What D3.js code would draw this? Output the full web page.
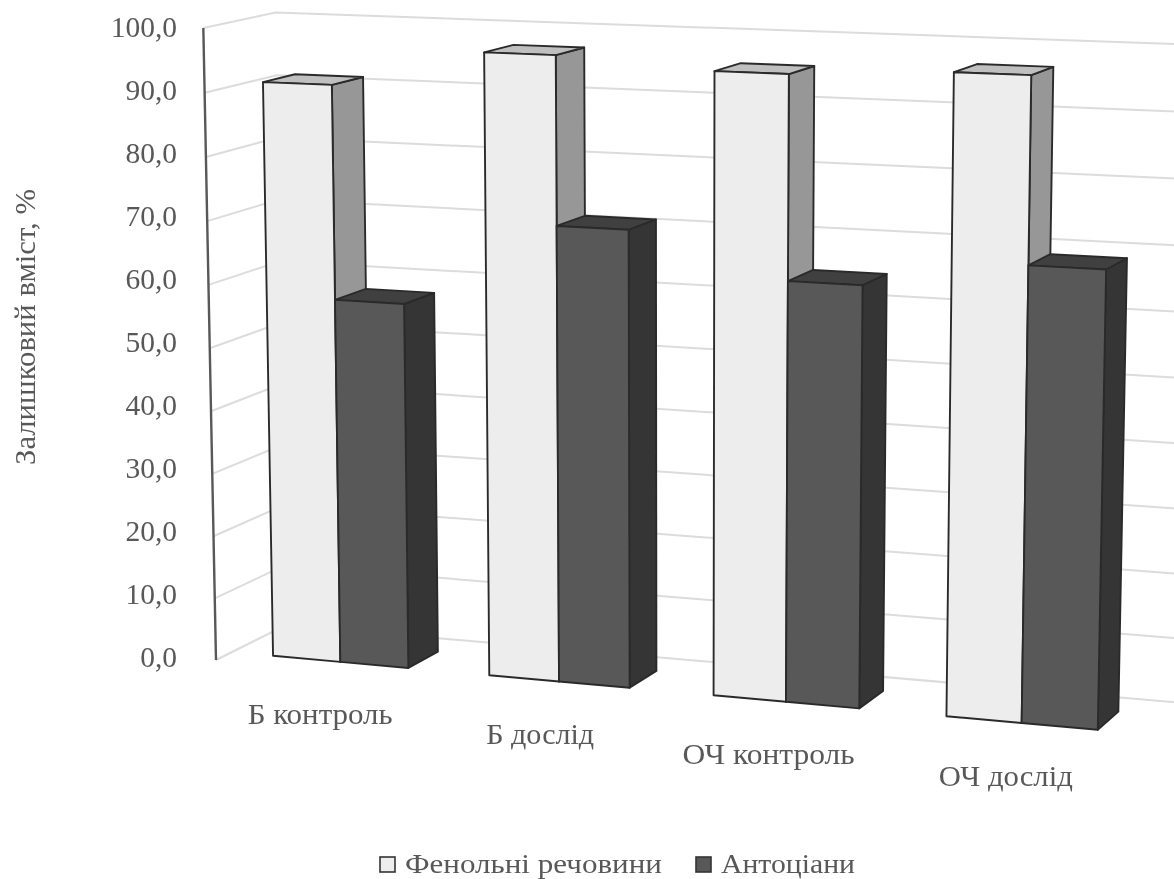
<!DOCTYPE html>
<html>
<head>
<meta charset="utf-8">
<script src="https://cdnjs.cloudflare.com/ajax/libs/d3/7.8.5/d3.min.js"></script>
<style>
  body { margin: 0; background: #fff; }
  text { font-family: "Liberation Serif", serif; fill: #595959; }
</style>
</head>
<body>
<div id="wrapper"></div>
<script>
// 1. Data
const categories = ["Б контроль", "Б дослід", "ОЧ контроль", "ОЧ дослід"]
const seriesNames = ["Фенольні речовини", "Антоціани"]
const phenolics = [91.3, 97.2, 95.7, 96.9]
const anthocyanins = [57.8, 71.2, 64.7, 69.0]
const valueDomain = [0, 100]

function drawChart() {
  const dimensions = { width: 1174, height: 879 }

  const svg = d3.select("#wrapper").append("svg")
    .attr("width", dimensions.width)
    .attr("height", dimensions.height)
    .style("display", "block")

  svg.append("defs").append("filter")
    .attr("id", "soft")
    .attr("filterUnits", "userSpaceOnUse")
    .attr("x", 0).attr("y", 0)
    .attr("width", dimensions.width).attr("height", dimensions.height)
    .append("feGaussianBlur").attr("stdDeviation", 0.55)

  const bounds = svg.append("g").attr("filter", "url(#soft)")

  // 2. Scales. X runs in category units, Z is the depth of the box (0 front, 1 back)
  const xScale = d3.scaleBand()
    .domain(categories)
    .range([0.01, categories.length + 0.01])
    .paddingInner(0.37)
    .paddingOuter(0.185)
  const seriesScale = d3.scaleBand()
    .domain(seriesNames)
    .range([0, xScale.bandwidth()])
  const yScale = d3.scaleLinear().domain(valueDomain).range([0, 1])
  const barDepth = [0.22, 0.67]

  // perspective: vanishing points of the three box directions
  const origin = { x: 216, y: 660 }
  const vanishX = { x: -11500, y: -400, k: -0.0181 }
  const vanishY = { x: 680, y: 23800, k: -0.02659 }
  const vanishZ = { x: 2435, y: -449, k: 0.03259 }
  const project = (x, value, z) => {
    const a = x * vanishX.k
    const b = yScale(value) * vanishY.k
    const c = z * vanishZ.k
    const w = 1 + a + b + c
    return [
      (origin.x + a * vanishX.x + b * vanishY.x + c * vanishZ.x) / w,
      (origin.y + a * vanishX.y + b * vanishY.y + c * vanishZ.y) / w,
    ]
  }
  const line = d3.line()

  // 3. Walls and gridlines
  const ticks = yScale.ticks(10)
  const grid = bounds.append("g").attr("fill", "none").attr("stroke", "#dcdcdc").attr("stroke-width", 2)
  grid.selectAll("path")
    .data(ticks)
    .enter().append("path")
    .attr("d", d => line([project(0, d, 0), project(0, d, 1), project(categories.length, d, 1)]))

  bounds.append("path")
    .attr("d", line([project(0, 0, 0), project(0, 100, 0)]))
    .attr("stroke", "#595959")
    .attr("stroke-width", 2.4)

  // 4. Bars
  const seriesData = [
    { name: seriesNames[0], values: phenolics, front: "#ededed", side: "#979797", top: "#bfbfbf" },
    { name: seriesNames[1], values: anthocyanins, front: "#595959", side: "#353535", top: "#414141" },
  ]
  const faces = bounds.append("g")
    .attr("stroke", "#2b2b2b")
    .attr("stroke-width", 1.9)
    .attr("stroke-linejoin", "round")

  categories.forEach((category, i) => {
    seriesData.forEach(series => {
      const x0 = xScale(category) + seriesScale(series.name)
      const x1 = x0 + seriesScale.bandwidth()
      const v = series.values[i]
      const [z0, z1] = barDepth
      const group = faces.append("g").attr("class", "bar")
      group.append("path")
        .attr("fill", series.side)
        .attr("d", line([project(x1, 0, z0), project(x1, 0, z1), project(x1, v, z1), project(x1, v, z0)]) + "Z")
      group.append("path")
        .attr("fill", series.top)
        .attr("d", line([project(x0, v, z0), project(x1, v, z0), project(x1, v, z1), project(x0, v, z1)]) + "Z")
      group.append("path")
        .attr("fill", series.front)
        .attr("d", line([project(x0, 0, z0), project(x1, 0, z0), project(x1, v, z0), project(x0, v, z0)]) + "Z")
    })
  })

  // 5. Peripherals
  const axisScale = d3.scaleLinear()
    .domain(valueDomain)
    .range([project(0, 0, 0)[1] - 3, project(0, 100, 0)[1] - 1])
  const yAxis = bounds.append("g")
    .attr("transform", "translate(177, 0)")
    .call(d3.axisLeft(axisScale)
      .ticks(10)
      .tickSize(0)
      .tickPadding(0)
      .tickFormat(d => d3.format(".1f")(d).replace(".", ",")))
  yAxis.select(".domain").remove()
  yAxis.selectAll("text")
    .style("font-size", "29.5px")

  const catLengths = [145, 108, 172, 134]
  bounds.selectAll(".cat-label")
    .data(categories)
    .enter().append("text")
    .attr("class", "cat-label")
    .attr("x", d => project(xScale(d) + xScale.bandwidth() / 2, 0, 0)[0] - 5)
    .attr("y", d => project(xScale(d) + xScale.bandwidth() / 2, 0, 0)[1] + 54)
    .attr("text-anchor", "middle")
    .attr("textLength", (d, i) => catLengths[i])
    .attr("lengthAdjust", "spacingAndGlyphs")
    .style("font-size", "29px")
    .text(d => d)

  bounds.append("text")
    .attr("transform", "translate(35, 327) rotate(-90)")
    .attr("text-anchor", "middle")
    .attr("textLength", 276)
    .attr("lengthAdjust", "spacingAndGlyphs")
    .style("font-size", "29px")
    .text("Залишковий вміст, %")

  const legendItems = [
    { name: seriesNames[0], fill: seriesData[0].front, box: 380, label: 405, length: 257 },
    { name: seriesNames[1], fill: seriesData[1].front, box: 696, label: 721, length: 134 },
  ]
  const legend = bounds.selectAll(".legend")
    .data(legendItems)
    .enter().append("g")
    .attr("class", "legend")
  legend.append("rect")
    .attr("x", d => d.box)
    .attr("y", 857)
    .attr("width", 15)
    .attr("height", 15)
    .attr("fill", d => d.fill)
    .attr("stroke", "#333")
    .attr("stroke-width", 1.6)
  legend.append("text")
    .attr("x", d => d.label)
    .attr("y", 873)
    .attr("textLength", d => d.length)
    .attr("lengthAdjust", "spacingAndGlyphs")
    .style("font-size", "27px")
    .text(d => d.name)
}
drawChart()
</script>
</body>
</html>
